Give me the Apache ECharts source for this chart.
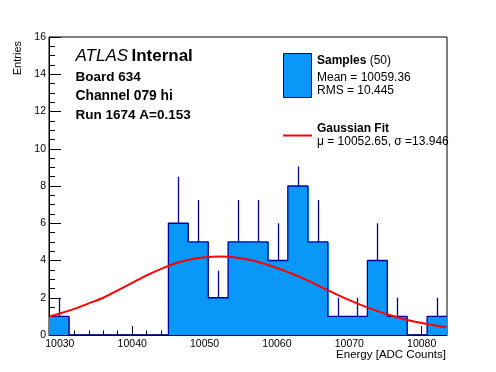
<!DOCTYPE html>
<html>
<head>
<meta charset="utf-8">
<script src="https://cdn.jsdelivr.net/npm/echarts@6/dist/echarts.min.js"></script>
<style>html,body{margin:0;padding:0;background:#fff}#c{width:496px;height:372px}</style>
</head>
<body>
<div id="c"></div>
<script>
// ---- data ----
var binEdges = [10028.5, 10031.25, 10034, 10036.75, 10039.5, 10042.25, 10045, 10047.75, 10050.5, 10053.25,
  10056, 10058.75, 10061.5, 10064.25, 10067, 10069.75, 10072.5, 10075.25, 10078, 10080.75, 10083.5];
var counts = [1, 0, 0, 0, 0, 0, 6, 5, 2, 5, 5, 4, 8, 5, 1, 1, 4, 1, 0, 1];
var errTops = [2, 0, 0, 0, 0, 0, 8.5, 7.25, 3.45, 7.25, 7.25, 6, 9.05, 7.25, 2, 2, 6, 2, 0, 2];
var fitX = [10028.6, 10030, 10032, 10034, 10036, 10038, 10040, 10042, 10044, 10046, 10048, 10050, 10052, 10054,
  10056, 10058, 10060, 10062, 10064, 10066, 10068, 10070, 10072, 10074, 10076, 10078, 10080, 10082, 10083.4];
var fitY = [1.0, 1.15, 1.4, 1.7, 2.0, 2.4, 2.8, 3.2, 3.55, 3.85, 4.05, 4.17, 4.21, 4.18,
  4.05, 3.85, 3.6, 3.3, 2.97, 2.6, 2.22, 1.87, 1.55, 1.27, 1.02, 0.81, 0.64, 0.5, 0.42];
var xTickLabels = [10030, 10040, 10050, 10060, 10070, 10080];
var yTickLabels = [0, 2, 4, 6, 8, 10, 12, 14, 16];

var FONT = '"Liberation Sans", Arial, Helvetica, sans-serif';
var FILL = '#0a98f8', EDGE = '#000099';

var histData = counts.map(function (c, i) { return [binEdges[i], binEdges[i + 1], c]; });
var errData = counts.map(function (c, i) { return [binEdges[i], binEdges[i + 1], c, errTops[i]]; });
var stepData = counts.map(function (c, i) { return [binEdges[i], c]; });
stepData.push([binEdges[binEdges.length - 1], counts[counts.length - 1]]);
var fitData = fitX.map(function (x, i) { return [x, fitY[i]]; });

var chart = echarts.init(document.getElementById('c'), null, { renderer: 'canvas' });
var xMin = binEdges[0], xMax = binEdges[binEdges.length - 1];
chart.setOption({
  animation: false,
  backgroundColor: '#fff',
  grid: { left: 49, right: 49, top: 37, bottom: 37, show: true, borderColor: '#000', borderWidth: 1, backgroundColor: 'transparent' },
  xAxis: [{
    type: 'value', min: xMin, max: xMax, splitNumber: 5,
    axisLine: { show: true, onZero: false, lineStyle: { color: '#000', width: 1 } },
    axisTick: { show: true, inside: true, length: 9, lineStyle: { color: '#000' } },
    minorTick: { show: false },
    splitLine: { show: false },
    axisLabel: {
      color: '#000', fontFamily: FONT, fontSize: 10.5, margin: 4, showMinLabel: true, showMaxLabel: true,
      formatter: function (v) { return xTickLabels.indexOf(Math.round(v * 1000) / 1000) >= 0 ? String(v) : ''; }
    }
  }, {
    type: 'value', min: xMin, max: xMax, splitNumber: 27, position: 'bottom',
    axisLine: { show: false },
    axisTick: { show: true, inside: true, length: 4.5, lineStyle: { color: '#000' } },
    axisLabel: { show: false }, splitLine: { show: false }
  }],
  yAxis: {
    type: 'value', min: 0, max: 16, interval: 2,
    axisLine: { show: true, lineStyle: { color: '#000', width: 1 } },
    axisTick: { show: true, inside: true, length: 12, lineStyle: { color: '#000' } },
    minorTick: { show: true, splitNumber: 4, length: 6, lineStyle: { color: '#000' } },
    splitLine: { show: false },
    axisLabel: {
      color: '#000', fontFamily: FONT, fontSize: 10.5, margin: 3,
      formatter: function (v) { return yTickLabels.indexOf(v) >= 0 ? String(v) : ''; }
    }
  },
  series: [{
    type: 'custom', data: histData, z: 2,
    renderItem: function (params, api) {
      var c = api.value(2);
      if (c <= 0) return null;
      var p0 = api.coord([api.value(0), 0]);
      var p1 = api.coord([api.value(1), c]);
      var x0 = Math.round(p0[0]), x1 = Math.round(p1[0]);
      return { type: 'rect', shape: { x: x0, y: p1[1], width: x1 - x0 + 1, height: p0[1] - p1[1] }, style: { fill: FILL } };
    }
  }, {
    type: 'line', data: stepData, step: 'end', symbol: 'none', z: 3,
    lineStyle: { color: EDGE, width: 1.3 }
  }, {
    type: 'custom', data: errData, z: 4,
    renderItem: function (params, api) {
      var c = api.value(2), t = api.value(3);
      if (c <= 0) return null;
      var xc = (api.value(0) + api.value(1)) / 2;
      var a = api.coord([xc, c]), b = api.coord([xc, t]);
      return { type: 'line', shape: { x1: Math.round(a[0]) + 0.5, y1: a[1], x2: Math.round(a[0]) + 0.5, y2: b[1] }, style: { stroke: EDGE, lineWidth: 1.3 } };
    }
  }, {
    type: 'line', data: fitData, smooth: 0.3, symbol: 'none', z: 5,
    lineStyle: { color: '#ff0000', width: 2 }
  }],
  graphic: [
    { type: 'text', x: 75.5, y: 56, style: { text: '{i|ATLAS} {b|Internal}', verticalAlign: 'middle', rich: { i: { fontFamily: FONT, fontStyle: 'italic', fontSize: 17, fill: '#000' }, b: { fontFamily: FONT, fontWeight: 'bold', fontSize: 17, fill: '#000' } } } },
    { type: 'text', x: 75.5, y: 77.5, style: { text: 'Board 634', font: 'bold 13.5px ' + FONT, fill: '#000', verticalAlign: 'middle' } },
    { type: 'text', x: 75.5, y: 96.5, style: { text: 'Channel 079 hi', font: 'bold 13.8px ' + FONT, fill: '#000', verticalAlign: 'middle' } },
    { type: 'text', x: 75.5, y: 115.5, style: { text: 'Run 1674 A=0.153', font: 'bold 13.5px ' + FONT, fill: '#000', verticalAlign: 'middle' } },
    { type: 'rect', shape: { x: 283.5, y: 53.5, width: 28, height: 44 }, style: { fill: FILL, stroke: EDGE, lineWidth: 1 } },
    { type: 'text', x: 317, y: 61, style: { text: '{b|Samples} {n|(50)}', verticalAlign: 'middle', rich: { b: { fontFamily: FONT, fontWeight: 'bold', fontSize: 12, fill: '#000' }, n: { fontFamily: FONT, fontSize: 12, fill: '#000' } } } },
    { type: 'text', x: 317, y: 77.5, style: { text: 'Mean = 10059.36', font: '12px ' + FONT, fill: '#000', verticalAlign: 'middle' } },
    { type: 'text', x: 317, y: 91, style: { text: 'RMS = 10.445', font: '12px ' + FONT, fill: '#000', verticalAlign: 'middle' } },
    { type: 'line', shape: { x1: 283, y1: 135.5, x2: 312, y2: 135.5 }, style: { stroke: '#ff0000', lineWidth: 2 } },
    { type: 'text', x: 317, y: 129, style: { text: 'Gaussian Fit', font: 'bold 12px ' + FONT, fill: '#000', verticalAlign: 'middle' } },
    { type: 'text', x: 317, y: 142, style: { text: '\u03bc = 10052.65, \u03c3 =13.946', font: '12px ' + FONT, fill: '#000', verticalAlign: 'middle' } },
    { type: 'text', x: 18, y: 41, rotation: Math.PI / 2, style: { text: 'Entries', font: '11px ' + FONT, fill: '#000', align: 'right', verticalAlign: 'middle' } },
    { type: 'text', x: 446, y: 355, style: { text: 'Energy [ADC Counts]', font: '11.5px ' + FONT, fill: '#000', align: 'right', verticalAlign: 'middle' } }
  ]
});
</script>
</body>
</html>
